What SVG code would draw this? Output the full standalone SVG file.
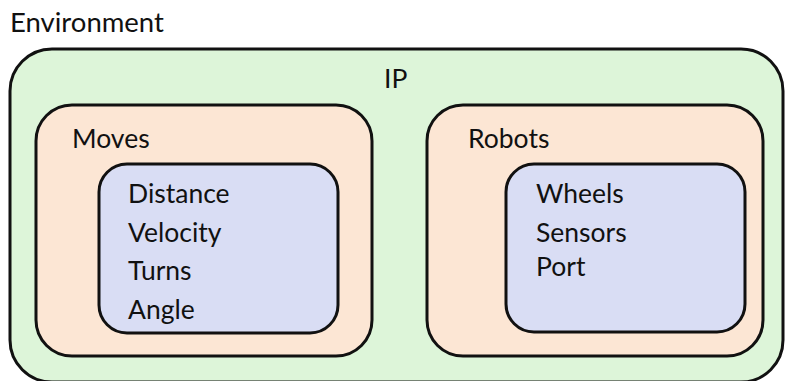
<svg xmlns="http://www.w3.org/2000/svg" width="786" height="381" viewBox="0 0 786 381">
<style>
text{font-family:Lato,"Open Sans",sans-serif;font-size:26.5px;fill:#111}
.box{stroke:#111;stroke-width:3}
.env{fill:#ddf5d9}
.grp{fill:#fce6d4}
.in{fill:#d9ddf4}
</style>
<rect width="786" height="381" fill="#fff"/>
<text x="10" y="32" style="font-size:27.5px">Environment</text>
<g id="ip">
<rect class="box env" x="10" y="49" width="773" height="333" rx="42"/>
<text x="384" y="88">IP</text>
</g>
<g id="moves">
<rect class="box grp" x="36" y="105" width="336" height="251" rx="36"/>
<text x="72" y="148">Moves</text>
</g>
<g id="moves-items">
<rect class="box in" x="99" y="164" width="239" height="169" rx="28"/>
<text x="128" y="203">Distance</text>
<text x="128" y="242">Velocity</text>
<text x="128" y="280">Turns</text>
<text x="128" y="319">Angle</text>
</g>
<g id="robots">
<rect class="box grp" x="427" y="105" width="336" height="251" rx="36"/>
<text x="468" y="148">Robots</text>
</g>
<g id="robots-items">
<rect class="box in" x="506" y="164" width="239" height="168" rx="28"/>
<text x="536" y="203">Wheels</text>
<text x="536" y="242">Sensors</text>
<text x="536" y="276">Port</text>
</g>
<g id="connectors"></g>
</svg>
